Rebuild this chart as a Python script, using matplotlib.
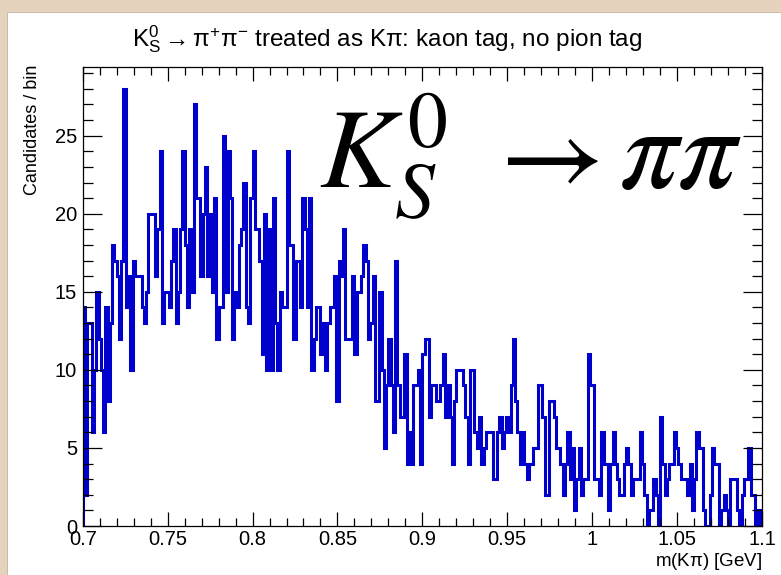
import numpy as np
import matplotlib.pyplot as plt
from matplotlib.ticker import MultipleLocator, FuncFormatter
from matplotlib.patches import Rectangle

plt.rcParams['font.family'] = ['Liberation Sans', 'DejaVu Sans']
plt.rcParams['mathtext.fontset'] = 'custom'
plt.rcParams['mathtext.rm'] = 'Liberation Sans'
plt.rcParams['mathtext.it'] = 'Liberation Sans:italic'

# histogram range and counts per bin (300 bins, 0.7 - 1.1 GeV)
x_min, x_max, n_bins = 0.7, 1.1, 300

counts_low = [14, 2, 13, 13, 6, 10, 15, 12, 10, 6,
              14, 8, 13, 18, 17, 16, 12, 17, 28, 14,
              16, 10, 17, 16, 16, 16, 14, 13, 15, 20,
              20, 20, 16, 19, 24, 13, 15, 15, 14, 17,
              19, 13, 15, 19, 24, 18, 14, 19, 15, 27,
              21, 21, 16, 20, 23, 16, 20, 15, 21, 12,
              14, 14, 25, 15, 24, 21, 12, 15, 14, 18,
              19, 22, 14, 13, 21, 24, 19, 19, 17, 11,
              20, 10, 19, 10, 21, 13, 10, 15, 14, 14,
              24, 18, 18, 12, 17, 17, 14, 21, 19, 14]

counts_mid = [21, 10, 12, 14, 14, 11, 13, 10, 13, 14,
              14, 16, 8, 17, 16, 19, 12, 12, 12, 16,
              11, 15, 15, 16, 18, 17, 12, 13, 16, 8,
              8, 15, 10, 5, 9, 12, 9, 6, 17, 9,
              7, 7, 11, 4, 6, 4, 9, 9, 10, 4,
              11, 12, 12, 7, 9, 9, 8, 8, 9, 11,
              7, 9, 7, 4, 8, 10, 10, 10, 9, 7,
              4, 10, 10, 6, 5, 7, 4, 5, 6, 6,
              6, 3, 3, 6, 7, 5, 6, 7, 6, 9,
              12, 8, 6, 4, 6, 4, 3, 4, 4]

counts_high = [5, 5, 9, 9, 7, 2, 2, 8, 8, 7,
               5, 5, 4, 2, 4, 6, 3, 5, 1, 3,
               5, 2, 3, 3, 11, 9, 9, 3, 3, 2,
               6, 4, 4, 1, 4, 6, 4, 3, 2, 2,
               4, 5, 4, 2, 3, 3, 3, 6, 4, 2,
               0, 1, 1, 3, 2, 0, 7, 4, 2, 3,
               4, 4, 6, 5, 4, 3, 3, 3, 2, 4,
               1, 3, 6, 5, 5, 1, 0, 0, 2, 5,
               4, 4, 0, 1, 2, 1, 0, 3, 3, 3,
               1, 0, 2, 3, 3, 5, 2, 2, 0, 1, 0]

counts = np.array(counts_low + counts_mid + counts_high)
edges = np.linspace(x_min, x_max, n_bins + 1)

fig = plt.figure(figsize=(7.81, 5.75), dpi=100)
fig.patch.set_facecolor('#e6d3be')

# white slide panel with a faint shadow
fig.add_artist(Rectangle((0.0085, -0.01), 1.0, 0.99, transform=fig.transFigure,
                         facecolor='#c9bcad', edgecolor='none', zorder=0))
fig.add_artist(Rectangle((0.0105, -0.01), 1.0, 0.987, transform=fig.transFigure,
                         facecolor='white', edgecolor='none', zorder=0))

ax = fig.add_axes([0.1059, 0.0852, 0.8698, 0.7983])
ax.stairs(counts, edges, color='#0000cc', lw=2.2)

ax.set_xlim(x_min, x_max)
ax.set_ylim(0, 29.4)
ax.xaxis.set_major_locator(MultipleLocator(0.05))
ax.xaxis.set_minor_locator(MultipleLocator(0.01))
ax.yaxis.set_major_locator(MultipleLocator(5))
ax.yaxis.set_minor_locator(MultipleLocator(1))
ax.xaxis.set_major_formatter(FuncFormatter(lambda v, p: '%g' % round(v, 3)))

ax.tick_params(which='both', direction='in', top=True, right=True,
               labelsize=14.5, width=0.9, color='black')
ax.tick_params(axis='x', which='major', length=10, pad=3)
ax.tick_params(axis='x', which='minor', length=5.5)
ax.tick_params(axis='y', which='major', length=13.5, pad=4)
ax.tick_params(axis='y', which='minor', length=7)
for s in ax.spines.values():
    s.set_linewidth(0.9)

fig.text(0.4955, 0.92,
         r'$\mathrm{K^{0}_{S}}\rightarrow\mathrm{\pi^{+}\pi^{-}}$ treated as K$\mathrm{\pi}$: kaon tag, no pion tag',
         ha='center', va='baseline', fontsize=17.5)
fig.text(0.042, 0.888, 'Candidates / bin', rotation=90,
         ha='center', va='top', fontsize=13)
fig.text(0.9757, 0.0425, 'm(K$\\mathrm{\\pi}$) [GeV]',
         ha='right', va='top', fontsize=13.5)

# big overlay label, in three pieces to match the spacing
fig.text(0.4085, 0.673, r'$K_S^0$', math_fontfamily='stix',
         ha='left', va='baseline', fontsize=82)
fig.text(0.619, 0.673, r'$\rightarrow$', math_fontfamily='stix',
         ha='left', va='baseline', fontsize=82)
fig.text(0.792, 0.673, r'$\pi\pi$', math_fontfamily='stix',
         ha='left', va='baseline', fontsize=84)

fig.savefig('out.png', dpi=100, facecolor=fig.get_facecolor())
